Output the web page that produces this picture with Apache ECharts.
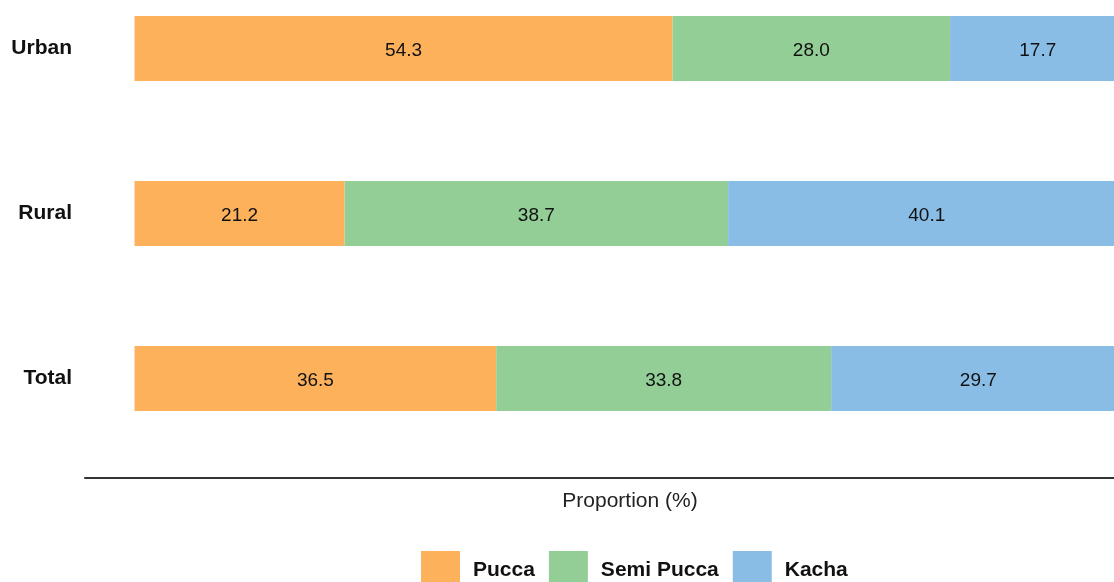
<!DOCTYPE html>
<html>
<head>
<meta charset="utf-8">
<script src="https://cdn.jsdelivr.net/npm/echarts@6/dist/echarts.min.js"></script>
<style>html,body{margin:0;padding:0;background:#fff;}#c{width:1114px;height:582px;}</style>
</head>
<body>
<div id="c"></div>
<script>
const categories = ['Urban', 'Rural', 'Total'];
const pucca = [54.3, 21.2, 36.5];
const semiPucca = [28.0, 38.7, 33.8];
const kacha = [17.7, 40.1, 29.7];
const seriesNames = ['Pucca', 'Semi Pucca', 'Kacha'];
const colors = ['#FDB15B', '#93CE96', '#89BDE5'];

const chart = echarts.init(document.getElementById('c'), null, {renderer: 'canvas'});
const FONT = 'Liberation Sans, Arial, sans-serif';
function mk(name, data, color) {
  return {
    name: name, type: 'bar', stack: 'all', data: data, barWidth: 65,
    itemStyle: {color: color},
    label: {show: true, position: 'inside', offset: [0, 2], color: '#111', fontFamily: FONT, fontSize: 19,
      formatter: p => p.value.toFixed(1)},
    emphasis: {disabled: true}
  };
}
chart.setOption({
  animation: false,
  textStyle: {fontFamily: FONT},
  grid: {left: 85, top: -34, width: 1090, height: 495, containLabel: false, outerBoundsMode: 'none'},
  xAxis: {
    type: 'value', min: -5, max: 105, offset: 17,
    axisLine: {show: true, lineStyle: {color: '#333', width: 2}},
    axisTick: {show: false}, axisLabel: {show: false}, splitLine: {show: false},
    name: 'Proportion (%)', nameLocation: 'middle', nameGap: 13,
    nameTextStyle: {color: '#222', fontSize: 21, fontFamily: FONT, verticalAlign: 'top'}
  },
  yAxis: {
    type: 'category', data: categories, inverse: true,
    axisLine: {show: false}, axisTick: {show: false}, splitLine: {show: false},
    axisLabel: {margin: 13, color: '#111', fontWeight: 'bold', fontSize: 21, fontFamily: FONT, padding: [6, 0, 0, 0]}
  },
  legend: {
    left: 421, top: 551, padding: 0, itemWidth: 39, itemHeight: 39, itemGap: 14, icon: 'rect',
    data: seriesNames,
    textStyle: {color: '#111', fontWeight: 'bold', fontSize: 21, fontFamily: FONT, padding: [4, 0, 0, 8]}
  },
  series: [mk(seriesNames[0], pucca, colors[0]), mk(seriesNames[1], semiPucca, colors[1]), mk(seriesNames[2], kacha, colors[2])]
});
</script>
</body>
</html>
